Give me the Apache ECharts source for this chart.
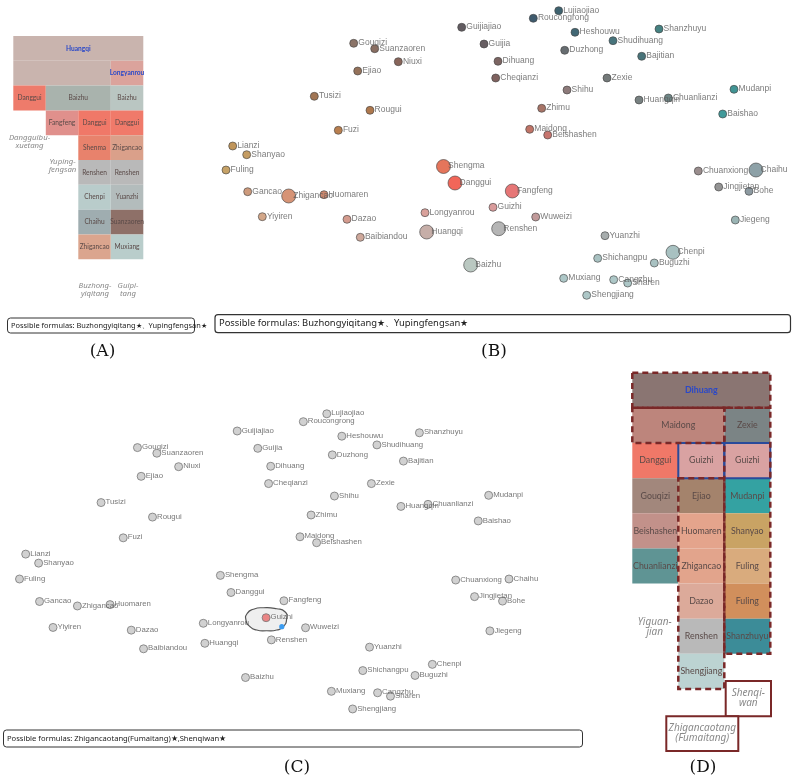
<!DOCTYPE html>
<html><head><meta charset="utf-8">
<script src="https://cdn.jsdelivr.net/npm/echarts@6/dist/echarts.min.js"></script>
<style>html,body{margin:0;padding:0;background:#fff}#c{width:800px;height:784px}</style>
</head><body><div id="c"></div>
<script>
// ---------- Herb map (panels B and C share one layout) ----------
const herbNames = ['Guijiajiao','Gouqizi','Suanzaoren','Guijia','Niuxi','Dihuang','Ejiao','Cheqianzi','Tusizi','Rougui','Fuzi','Lianzi','Shanyao','Fuling','Shengma','Danggui','Gancao','Zhigancao','Huomaren','Guizhi','Yiyiren','Dazao','Longyanrou','Huangqi','Renshen','Baibiandou','Baizhu','Lujiaojiao','Roucongrong','Heshouwu','Shanzhuyu','Shudihuang','Duzhong','Bajitian','Zexie','Shihu','Mudanpi','Huangqin','Chuanlianzi','Zhimu','Baishao','Maidong','Beishashen','Chuanxiong','Chaihu','Fangfeng','Jingjietan','Bohe','Wuweizi','Jiegeng','Yuanzhi','Chenpi','Shichangpu','Buguzhi','Muxiang','Cangzhu','Sharen','Shengjiang'];
const herbX = [461.7,353.7,374.7,484,398.3,498,357.7,495.7,314.3,370,338.3,232.7,246.7,226,443.5,455,247.7,288.7,324,493,262.3,347,425,426.7,498.7,360.3,470.7,558.7,533.3,575,659,613,564.7,641.7,607,567,734,639,668.3,541.7,722.7,529.7,547.7,698.3,756,512.3,718.7,749,535.7,735.3,605,673,597.7,654.3,563.7,613.7,627.7,586.7];
const herbY = [27.3,43.3,48.7,44,61.7,61.3,71,78,96.3,110.3,130.3,146,154.7,170,166.5,183,191.7,196,194.7,207.3,216.7,219.3,212.7,232,228.7,237.3,265,10.7,18.3,32.3,29,40.7,50.3,56.3,78,90,89.3,100,98,108.3,114,129.3,135,171,170,191,187,191.3,217,220,235.7,252.3,258.3,263,278.3,279.7,283,295.3];
// 2 = herb of the recommended formulas (large node in B)
const herbWeight = [1,1,1,1,1,1,1,1,1,1,1,1,1,1,2,2,1,2,1,1,1,1,1,2,2,1,2,1,1,1,1,1,1,1,1,1,1,1,1,1,1,1,1,1,2,2,1,1,1,1,1,2,1,1,1,1,1,1];
const herbColorB = ['#3b3339','#6e5142','#6b4a3b','#41363b','#6a3f31','#5b3f3b','#7a4f31','#5f3b37','#8a5329','#9a5621','#a85f23','#b07b31','#b5833b','#b88b41','#df5232','#ee4030','#c0815b','#cc7852','#c06a4a','#d08282','#c8916b','#c98272','#d08a82','#b89a92','#a2a2a2','#c29282','#a9bab2','#0e3b4b','#0e3149','#114151','#166161','#19515b','#41494d','#1b5159','#515959','#715959','#117979','#566161','#4b6969','#915141','#118181','#b05141','#b85149','#817171','#718991','#e05454','#797979','#718189','#b18181','#81a1a1','#919999','#92b1b1','#92b1b1','#92b1b1','#99b9b9','#99b9b9','#99b9b9','#99b9b9'];
const selectedHerbC = 'Guizhi';
// lasso drawn around the selected herb in C (herb-map units)
const lassoX = [471.2,472.6,479.1,490.0,504.5,513.4,515.3,511.6,504.5,493.6,482.8,475.6];
const lassoY = [209.6,203.1,199.2,197.7,198.7,201.6,207.9,216.0,219.2,219.9,219.2,216.0];
const lassoCursor = [510,216];

const formulasB = ['Buzhongyiqitang★','Yupingfengsan★'];
const formulasC = ['Zhigancaotang(Fumaitang)★','Shenqiwan★'];

// ---------- Panel A treemap cells: [col0,row0,col1,row1,label] ----------
const aCells = [
 [0,0,4,1,'Huangqi'],[0,1,3,2,''],[3,1,4,2,'Longyanrou'],
 [0,2,1,3,'Danggui'],[1,2,3,3,'Baizhu'],[3,2,4,3,'Baizhu'],
 [1,3,2,4,'Fangfeng'],[2,3,3,4,'Danggui'],[3,3,4,4,'Danggui'],
 [2,4,3,5,'Shenma'],[3,4,4,5,'Zhigancao'],
 [2,5,3,6,'Renshen'],[3,5,4,6,'Renshen'],
 [2,6,3,7,'Chenpi'],[3,6,4,7,'Yuanzhi'],
 [2,7,3,8,'Chaihu'],[3,7,4,8,'Suanzaoren'],
 [2,8,3,9,'Zhigancao'],[3,8,4,9,'Muxiang']
];
const aColors = ['#c9b4ae','#c9b4ae','#dba39c','#ee7b6b','#a9b3ad','#bac6c2','#e0908c','#f07868','#f07a6a','#e8826c','#daa08a','#b9b9b9','#b9b9b9','#b9cccb','#b3bcbc','#9fadb0','#8e7068','#dba58e','#b9cdcb'];
const aSelected = ['Huangqi','Longyanrou'];

// ---------- Panel D treemap cells ----------
const dCells = [
 [0,0,3,1,'Dihuang'],
 [0,1,2,2,'Maidong'],[2,1,3,2,'Zexie'],
 [0,2,1,3,'Danggui'],[1,2,2,3,'Guizhi'],[2,2,3,3,'Guizhi'],
 [0,3,1,4,'Gouqizi'],[1,3,2,4,'Ejiao'],[2,3,3,4,'Mudanpi'],
 [0,4,1,5,'Beishashen'],[1,4,2,5,'Huomaren'],[2,4,3,5,'Shanyao'],
 [0,5,1,6,'Chuanlianzi'],[1,5,2,6,'Zhigancao'],[2,5,3,6,'Fuling'],
 [1,6,2,7,'Dazao'],[2,6,3,7,'Fuling'],
 [1,7,2,8,'Renshen'],[2,7,3,8,'Shanzhuyu'],
 [1,8,2,9,'Shengjiang']
];
const dColors = ['#8a7572','#bd857c','#7b8485','#f07868','#d9a2a2','#d9a2a2','#a2877c','#a4836c','#34a2a2','#c2918a','#e4a48c','#c9a364','#5f9494','#e2a48c','#d9ab7d','#dcaa9a','#d18f5c','#b9b9b9','#3c8c98','#bcd3d2'];
const dSelected = ['Dihuang'];
// formula outlines (dashed) and selected-herb outlines (blue)
const dFormulaBoxes = [[0,0,3,1],[0,1,2,2],[1,3,2,9],[2,1,3,8]];
const dHerbBoxes = [[1,2,2,3],[2,2,3,3]];

// ---------- helpers ----------
function rectOf(api, c){
  const p0 = api.coord([c[0],c[1]]), p1 = api.coord([c[2],c[3]]);
  return {x:Math.min(p0[0],p1[0]), y:Math.min(p0[1],p1[1]), width:Math.abs(p1[0]-p0[0]), height:Math.abs(p1[1]-p0[1])};
}
function cellSeries(g, cells, colors, selected, fontSize, slack){
  return {type:'custom', xAxisIndex:g, yAxisIndex:g, silent:true, clip:false, z:2,
    data: cells.map(c=>[c[0],c[1],c[2],c[3]]),
    renderItem(params, api){
      const c = cells[params.dataIndex];
      const r = rectOf(api, c);
      const ch = [{type:'rect', shape:r, style:{fill:colors[params.dataIndex]}}];
      if (c[4]) {
        const hl = selected.includes(c[4]);
        ch.push({type:'text', x:r.x+r.width/2, y:r.y+r.height/2, style:{text:c[4], align:'center', verticalAlign:'middle', width:r.width+slack, overflow:'truncate', ellipsis:'',
          fill: hl?'#2a48c8':'#5a4a48', fontSize:fontSize, fontWeight: hl?'bold':'normal', fontFamily:'Lato'}});
      }
      return {type:'group', children:ch};
    }};
}
function boxSeries(g, boxes, stroke, width, dash, z){
  return {type:'custom', xAxisIndex:g, yAxisIndex:g, silent:true, clip:false, z:z,
    data: boxes.map(b=>b.slice()),
    renderItem(params, api){
      return {type:'rect', shape:rectOf(api, boxes[params.dataIndex]), style:{fill:'none', stroke:stroke, lineWidth:width, lineDash:dash}};
    }};
}
function herbData(big, colorFn){
  return herbNames.map((n,i)=>{
    const s = big ? (herbWeight[i]===2?14:8) : 8;
    return {name:n, value:[herbX[i], herbY[i]], symbolSize:s,
      itemStyle:{color:colorFn(i,n)},
      label:{position:[s/2+5, s/2]}};
  });
}

const grids = [
  {left:13.3, top:36, width:130, height:223.3},
  {left:220, top:0, width:560, height:310},
  {left:13.97, top:402.7, width:517.2, height:321.5},
  {left:632.3, top:372.7, width:138, height:316.3}
];
const xr = [[0,4],[220,780],[220,780],[0,3]];
const yr = [[0,9],[0,310],[0,310],[0,9]];

const chart = echarts.init(document.getElementById('c'), null, {renderer:'canvas'});
const T = (x,y,text,font,fill,align)=>({type:'text', x:x, y:y, silent:true, z:100, style:{text:text, font:font, fill:fill||'#333', align:align||'center', verticalAlign:'middle'}});
const box = (x,y,w,h,stroke,lw,r)=>({type:'rect', silent:true, z:90, shape:{x:x,y:y,width:w,height:h,r:r||0}, style:{fill:'#fff', stroke:stroke, lineWidth:lw}});

chart.setOption({
  animation:false,
  grid: grids,
  xAxis: grids.map((g,i)=>({type:'value', gridIndex:i, min:xr[i][0], max:xr[i][1], show:false})),
  yAxis: grids.map((g,i)=>({type:'value', gridIndex:i, min:yr[i][0], max:yr[i][1], inverse:true, show:false})),
  series: [
    cellSeries(0, aCells, aColors, aSelected, 6.6, 4),
    cellSeries(3, dCells, dColors, dSelected, 8.8, 2),
    boxSeries(3, dHerbBoxes, '#2a4a9a', 2, null, 4),
    boxSeries(3, dFormulaBoxes, '#7a2828', 2.5, [6,4], 5),
    {type:'scatter', xAxisIndex:1, yAxisIndex:1, clip:false, z:3,
     data: herbData(true, i=>herbColorB[i]),
     itemStyle:{borderColor:'#444', borderWidth:0.8},
     label:{show:true, formatter:'{b}', align:'left', verticalAlign:'middle', fontSize:8.5, fontFamily:'Liberation Sans', color:'#5a5a5a'}},
    {type:'custom', xAxisIndex:2, yAxisIndex:2, silent:true, clip:false, z:2,
     data:[[lassoCursor[0], lassoCursor[1]]],
     renderItem(params, api){
       const pts = lassoX.map((x,i)=>api.coord([x, lassoY[i]]));
       const cp = api.coord(lassoCursor);
       return {type:'group', children:[
         {type:'polygon', shape:{points:pts, smooth:0.6}, style:{fill:'#efefef', stroke:'#555', lineWidth:1.2}},
         {type:'circle', shape:{cx:cp[0], cy:cp[1], r:2.6}, style:{fill:'#3c9cf0'}, z2:10}
       ]};
     }},
    {type:'scatter', xAxisIndex:2, yAxisIndex:2, clip:false, z:3,
     data: herbData(false, (i,n)=> n===selectedHerbC ? '#e86a6a' : '#c6c6c6'),
     itemStyle:{borderColor:'#777', borderWidth:1},
     label:{show:true, formatter:'{b}', align:'left', verticalAlign:'middle', fontSize:7.8, fontFamily:'Liberation Sans', color:'#555'}}
  ],
  graphic: [
    box(7.5,318,187,15,'#333',1,3),
    T(11,325.8,'Possible formulas: '+formulasB.join('、'),'7.4px "Noto Sans"','#222','left'),
    box(215,314.7,575.5,18,'#333',1.2,3),
    T(219,323.8,'Possible formulas: '+formulasB.join('、'),'9.4px "Noto Sans"','#222','left'),
    box(3.5,730,579,17,'#333',1,3),
    T(7,738.6,'Possible formulas: '+formulasC.join(','),'7.6px "Noto Sans"','#222','left'),
    T(29.5,141.7,'Dangguibu-\nxuetang','italic 7.8px "Noto Sans"','#8a8a8a','center'),
    T(62.5,165.5,'Yuping-\nfengsan','italic 7.8px "Noto Sans"','#8a8a8a','center'),
    T(95,290,'Buzhong-\nyiqitang','italic 7.8px "Noto Sans"','#8a8a8a','center'),
    T(128,290,'Guipi-\ntang','italic 7.8px "Noto Sans"','#8a8a8a','center'),
    T(654.7,627,'Yiguan-\njian','italic 10px "Noto Sans"','#8a8a8a','center'),
    box(725.7,681,45.3,35.3,'#7a2828',2,0),
    T(748.3,698.6,'Shenqi-\nwan','italic 10px "Noto Sans"','#8a8a8a','center'),
    box(666.3,716.3,72,34.7,'#7a2828',2,0),
    T(702.3,733.6,'Zhigancaotang\n(Fumaitang)','italic 10px "Noto Sans"','#8a8a8a','center'),
    T(102.5,352,'(A)','17px "DejaVu Serif"','#111','center'),
    T(494,352,'(B)','17px "DejaVu Serif"','#111','center'),
    T(297,768,'(C)','17px "DejaVu Serif"','#111','center'),
    T(703,768,'(D)','17px "DejaVu Serif"','#111','center')
  ]
});
</script></body></html>
